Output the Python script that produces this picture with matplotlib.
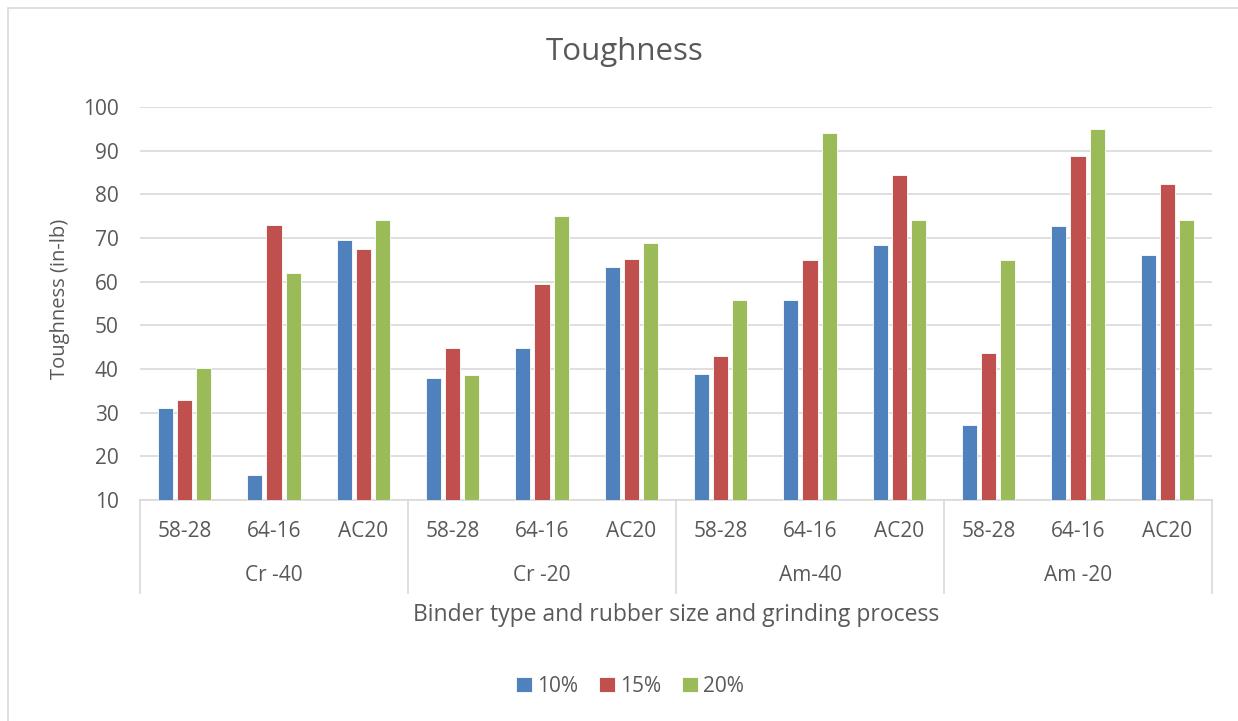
import numpy as np
import matplotlib.pyplot as plt
from matplotlib.patches import Rectangle

plt.rcParams['font.family'] = ['Open Sans', 'DejaVu Sans']

# Data
groups = ['Cr -40', 'Cr -20', 'Am-40', 'Am -20']
binders = ['58-28', '64-16', 'AC20']
series = ['10%', '15%', '20%']
tough_10 = [31.0, 15.7, 69.6, 37.9, 44.9, 63.4, 38.9, 55.9, 68.4, 27.1, 72.8, 66.2]
tough_15 = [32.9, 73.0, 67.5, 44.8, 59.5, 65.1, 42.9, 64.9, 84.5, 43.6, 88.8, 82.4]
tough_20 = [40.3, 62.0, 74.2, 38.6, 75.0, 68.9, 55.9, 94.0, 74.2, 65.0, 95.0, 74.2]
colors = ['#4F81BD', '#C0504D', '#9BBB59']

txt = '#595959'
grid = '#D9D9D9'

fig = plt.figure(figsize=(12.38, 7.21), dpi=100)
# chart border (right and bottom edges fall outside the image)
fig.patches.append(Rectangle((8 / 1238, -0.05), 1.05, 1.05 - 8 / 721, transform=fig.transFigure,
                             fill=False, edgecolor='#D9D9D9', linewidth=1.2))
ax = fig.add_axes([140 / 1238, 221 / 721, 1072 / 1238, 393 / 721])

x = np.arange(len(tough_10))
step = 0.213
width = 0.168
for i, vals in enumerate([tough_10, tough_15, tough_20]):
    ax.bar(x + (i - 1) * step, vals, width, bottom=0, color=colors[i],
           edgecolor='white', linewidth=0.6, label=series[i], zorder=3)

ax.set_xlim(-0.5, len(x) - 0.5)
ax.set_ylim(10, 100)
ax.set_yticks(range(10, 101, 10))
ax.yaxis.grid(True, color=grid, linewidth=1.2, zorder=0)
ax.tick_params(axis='y', length=0, labelsize=15, labelcolor=txt, pad=15.5)
ax.set_xticks([])
for s in ['top', 'right', 'left']:
    ax.spines[s].set_visible(False)
ax.spines['bottom'].set_color(grid)
ax.spines['bottom'].set_linewidth(1.2)

# two-level category axis
trans = ax.get_xaxis_transform()
for k in range(len(x)):
    ax.text(k, -0.079, binders[k % 3], transform=trans, ha='center', va='center',
            fontsize=15, color=txt)
for g, name in enumerate(groups):
    ax.text(g * 3 + 1, -0.193, name, transform=trans, ha='center', va='center',
            fontsize=15, color=txt)
for b in range(len(groups) + 1):
    ax.plot([b * 3 - 0.5, b * 3 - 0.5], [0, -0.237], transform=trans, color=grid,
            linewidth=1.2, clip_on=False)

ax.text(0.5, -0.293, 'Binder type and rubber size and grinding process', transform=ax.transAxes,
        ha='center', va='center', fontsize=16.5, color=txt)
fig.text(60 / 1238, 1 - 299 / 721, 'Toughness (in-lb)', rotation=90, ha='center', va='center',
         fontsize=14.5, color=txt)
fig.text(625 / 1238, 1 - 52 / 721, 'Toughness', ha='center', va='center', fontsize=22.5, color=txt)

fig.legend(loc='center', bbox_to_anchor=(630 / 1238, 1 - 686 / 721), ncol=3, frameon=False,
           fontsize=15, labelcolor=txt, handlelength=0.75, handleheight=0.75,
           handletextpad=0.25, columnspacing=1.0)

fig.savefig('out.png', dpi=100, facecolor='white')
